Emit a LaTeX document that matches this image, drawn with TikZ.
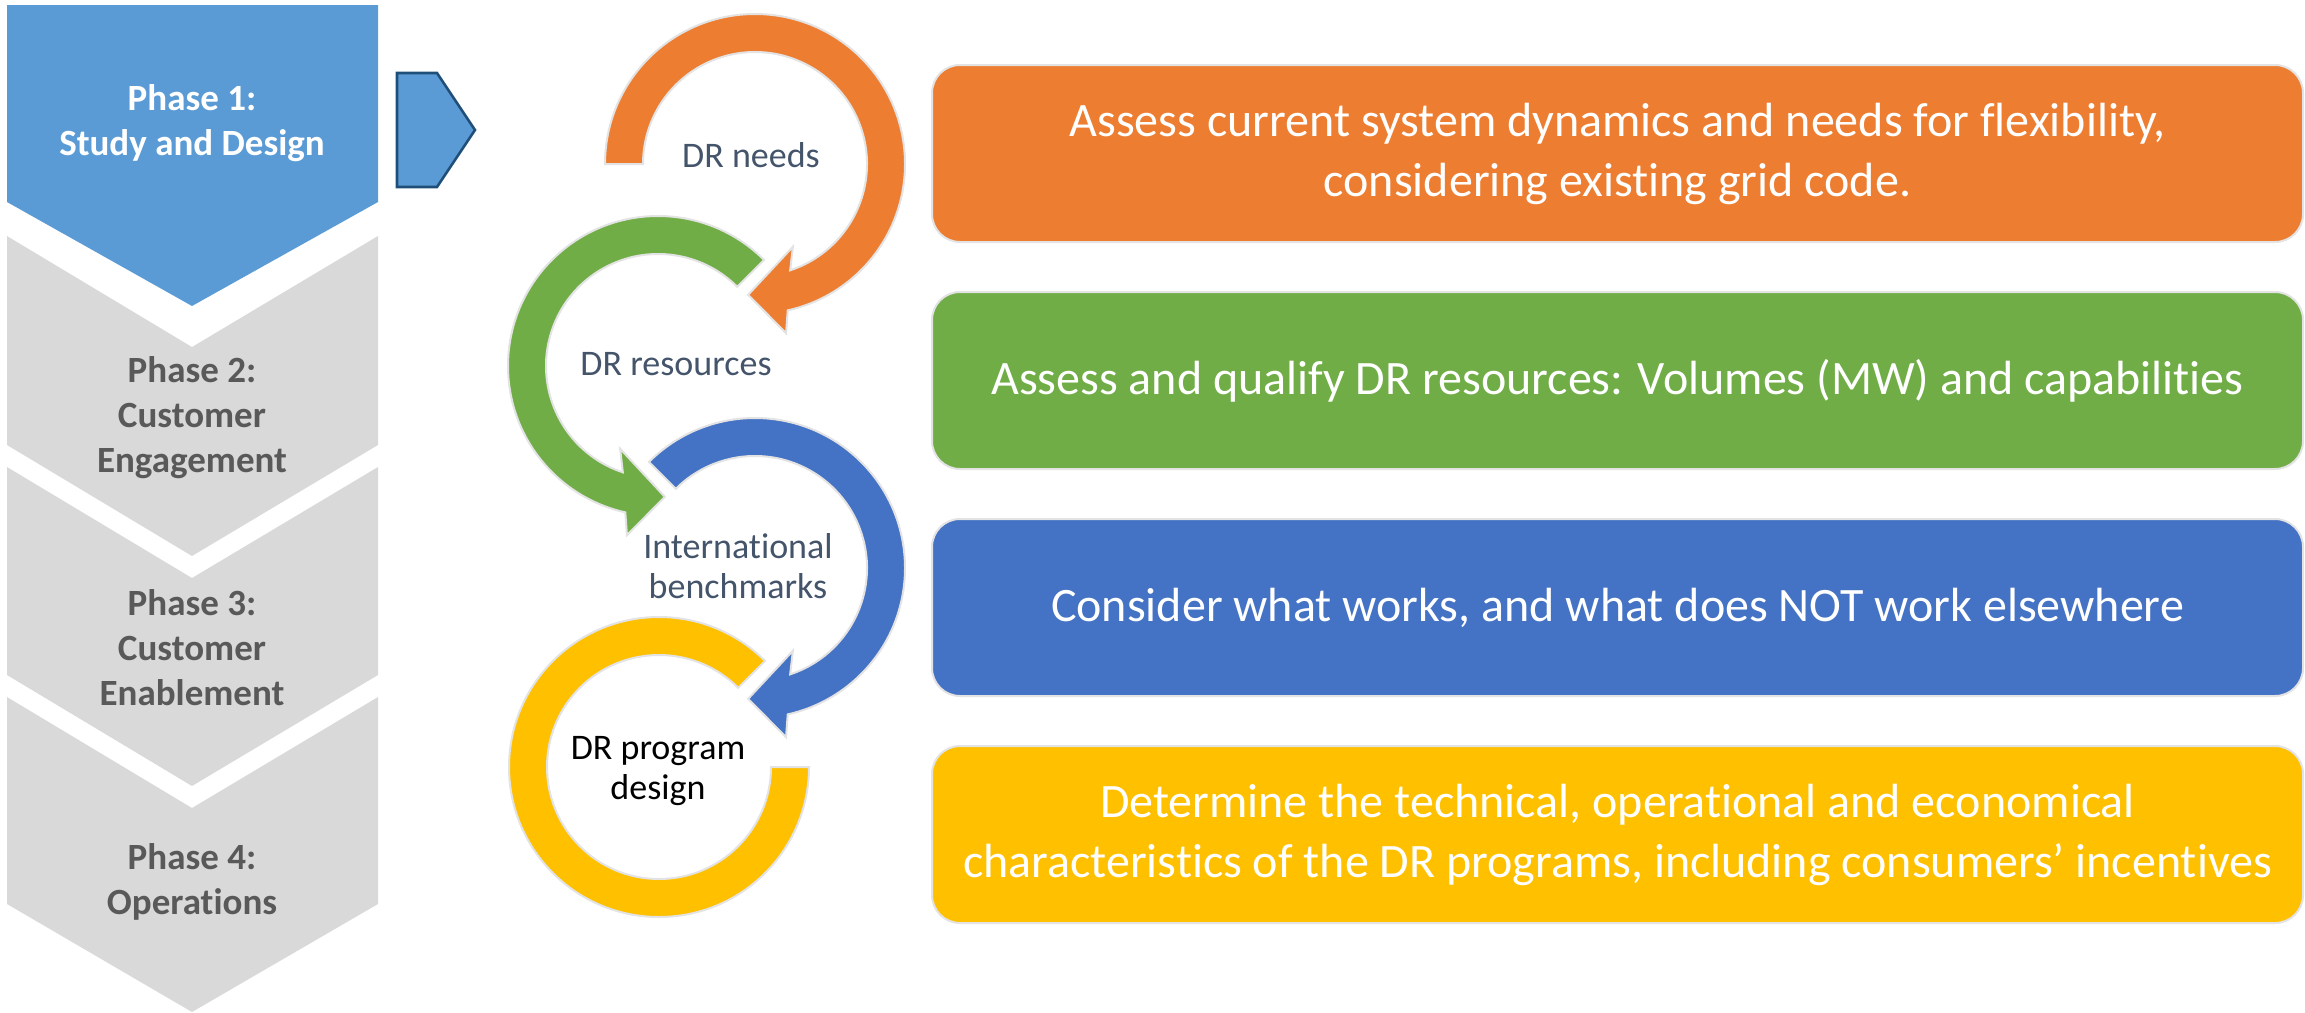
\documentclass[tikz,border=0pt]{standalone}
\usepackage{fontspec}
\setmainfont[Ligatures={NoCommon}]{Carlito}
\usepackage{xcolor}
\usepackage{tikz}
\usetikzlibrary{positioning}
\definecolor{phaseblue}{HTML}{5B9BD5}
\definecolor{phasegray}{HTML}{D9D9D9}
\definecolor{phasetext}{HTML}{595959}
\definecolor{arrowrim}{HTML}{1F4E79}
\definecolor{rimgray}{HTML}{E3E3E3}
\definecolor{slate}{HTML}{44546A}
\definecolor{dror}{HTML}{ED7D31}
\definecolor{drgr}{HTML}{70AD47}
\definecolor{drbl}{HTML}{4472C4}
\definecolor{drye}{HTML}{FFC000}
\tikzset{phaselabel/.style={align=center, text=phasetext, font=\fontsize{18.5}{22.5}\selectfont\bfseries}}
\tikzset{ring/.style={draw=rimgray, line width=1pt}}
\tikzset{ringlabel/.style={align=center, text=slate, font=\fontsize{18}{20}\selectfont}}
\tikzset{taskbox/.style={draw=rimgray, line width=1pt, rounded corners=14pt, minimum width=685.5pt, minimum height=88.5pt, inner sep=0pt, align=center, text=white, font=\fontsize{24}{30}\selectfont}}

\begin{document}
\begin{tikzpicture}[x=0.5pt, y=0.5pt]
\useasboundingbox (0,0) rectangle (2305,-1012);

\fill[phaseblue] (7,-5) -- (378,-5) -- (378,-202) -- (192,-306) -- (7,-202) -- cycle;
\fill[phasegray] (7,-236) -- (192,-347) -- (378,-236) -- (378,-445) -- (192,-556) -- (7,-445) -- cycle;
\fill[phasegray] (7,-467) -- (192,-578) -- (378,-467) -- (378,-675) -- (192,-786) -- (7,-675) -- cycle;
\fill[phasegray] (7,-697) -- (192,-808) -- (378,-697) -- (378,-904) -- (192,-1012) -- (7,-904) -- cycle;
\node[phaselabel, text=white] (phase1) at (192,-123) {Phase 1:\\Study and Design};
\node[phaselabel] (phase2) at (192,-418) {Phase 2:\\Customer\\Engagement};
\node[phaselabel] (phase3) at (192,-648) {Phase 3:\\Customer\\Enablement};
\node[phaselabel] (phase4) at (192,-882) {Phase 4:\\Operations};

\filldraw[fill=phaseblue, draw=arrowrim, line width=1.3pt] (397,-73) -- (437,-73) -- (475,-130) -- (437,-187) -- (397,-187) -- cycle;

\begin{scope}[shift={(755,-164)}]
\filldraw[fill=dror, ring] (180:75pt) arc[start angle=180, end angle=-77.4, radius=75pt] -- (-79.6:86pt) -- (-93:65.5pt) -- (-65.4:45.5pt) -- (-71.7:56pt) arc[start angle=-71.7, end angle=180, radius=56pt] -- cycle;
\end{scope}
\begin{scope}[shift={(658,-366)}]
\filldraw[fill=drgr, ring] (45:75pt) arc[start angle=45, end angle=257.4, radius=75pt] -- (259.6:86pt) -- (273:65.5pt) -- (245.4:45.5pt) -- (251.7:56pt) arc[start angle=251.7, end angle=45, radius=56pt] -- cycle;
\end{scope}
\begin{scope}[shift={(755,-568)}]
\filldraw[fill=drbl, ring] (135:75pt) arc[start angle=135, end angle=-77.4, radius=75pt] -- (-79.6:86pt) -- (-93:65.5pt) -- (-65.4:45.5pt) -- (-71.7:56pt) arc[start angle=-71.7, end angle=135, radius=56pt] -- cycle;
\end{scope}
\begin{scope}[shift={(659,-767)}]
\filldraw[fill=drye, ring] (45:75pt) arc[start angle=45, end angle=360, radius=75pt] -- (0:56pt) arc[start angle=360, end angle=45, radius=56pt] -- cycle;
\end{scope}
\node[ringlabel] (needs) at (751,-155) {DR needs};
\node[ringlabel] (resources) at (676,-364) {DR resources};
\node[ringlabel] (benchmarks) at (738,-566) {International\\benchmarks};
\node[ringlabel, text=black] (design) at (658,-771) {DR program\\design};

\node[taskbox, fill=dror] (task1) at (1617.5,-153.5) {Assess current system dynamics and needs for flexibility,\\considering existing grid code.};
\node[taskbox, fill=drgr, below=24pt of task1] (task2) {Assess and qualify DR resources: Volumes (MW) and capabilities};
\node[taskbox, fill=drbl, below=24pt of task2] (task3) {Consider what works, and what does NOT work elsewhere};
\node[taskbox, fill=drye, below=24pt of task3] (task4) {Determine the technical, operational and economical\\characteristics of the DR programs, including consumers’ incentives};
\end{tikzpicture}
\end{document}
